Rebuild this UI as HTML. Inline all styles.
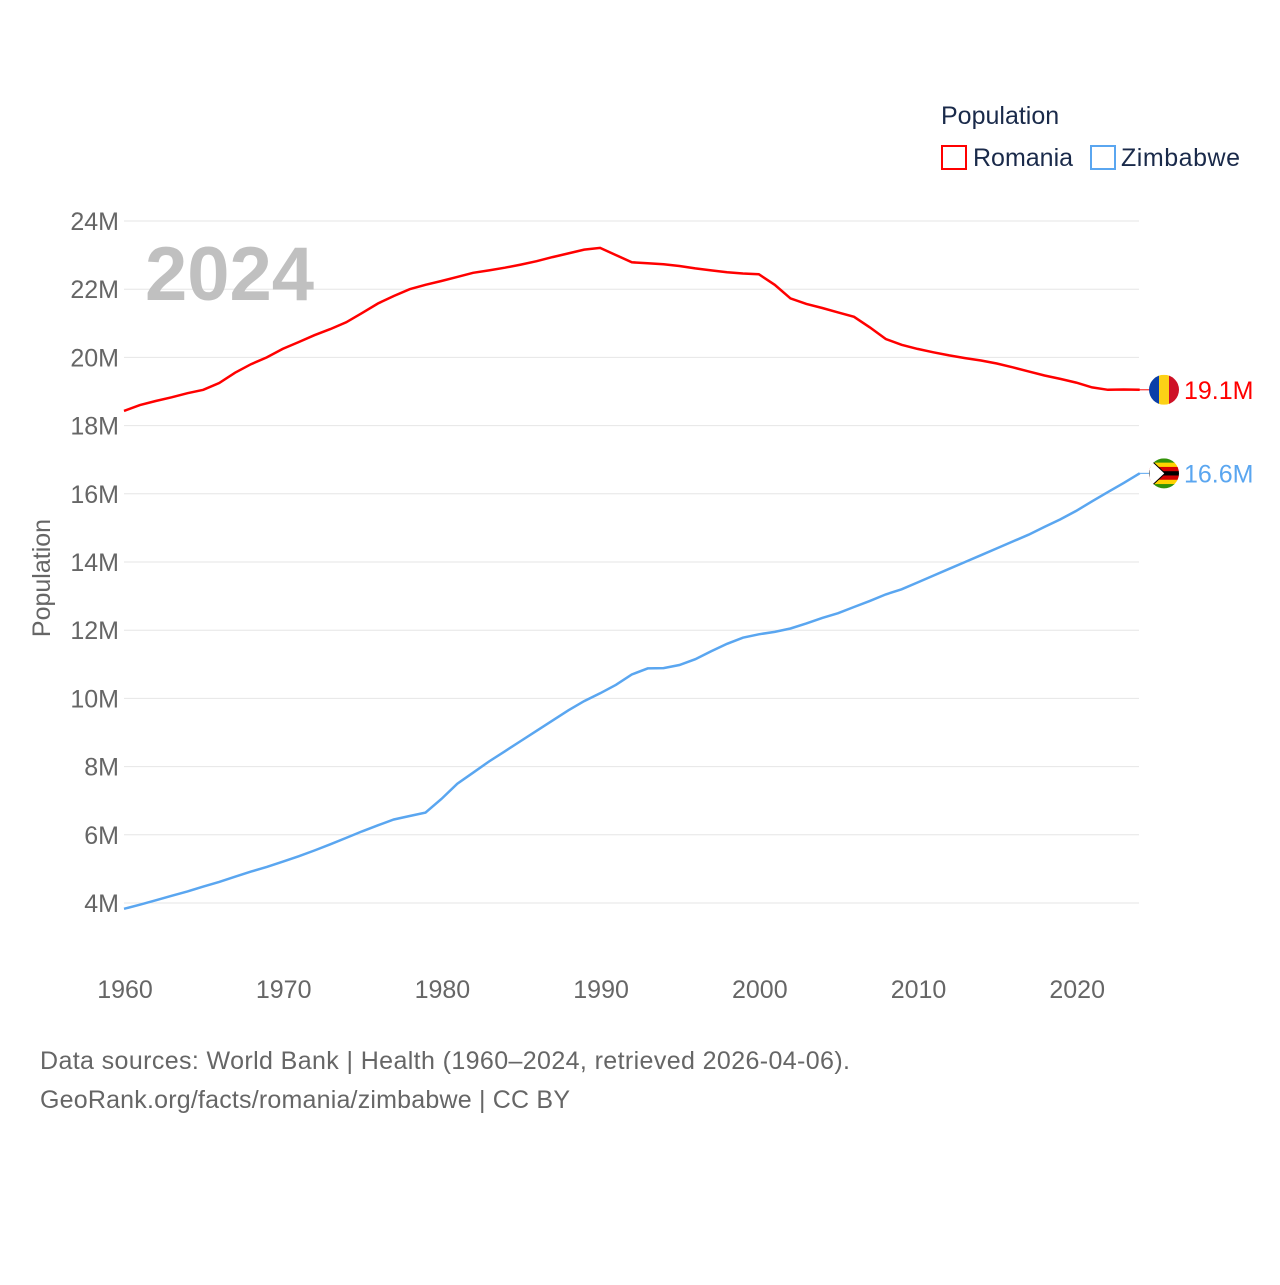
<!DOCTYPE html>
<html><head><meta charset="utf-8"><style>
body{margin:0;background:#fff;font-family:"Liberation Sans",sans-serif;}
svg text{font-family:"Liberation Sans",sans-serif;}
</style></head><body>
<svg width="1280" height="1280" id="chart">
<text x="941" y="124" font-size="25" fill="#1a2a4a">Population</text>
<g><rect x="942" y="146" width="24" height="23" fill="none" stroke="#ff0000" stroke-width="2"/><text x="973" y="166" font-size="25" fill="#1a2a4a">Romania</text></g>
<g><rect x="1091" y="146" width="24" height="23" fill="none" stroke="#5aa6f0" stroke-width="2"/><text x="1121" y="166" font-size="25" fill="#1a2a4a" textLength="119">Zimbabwe</text></g>
<g id="grid"></g>
<text x="145" y="300" font-size="76" font-weight="bold" fill="#c0c0c0">2024</text>
<text transform="translate(50,578) rotate(-90)" text-anchor="middle" font-size="25" fill="#666">Population</text>
<g id="series"></g>
<text x="40" y="1069" font-size="25" fill="#666" textLength="810">Data sources: World Bank | Health (1960–2024, retrieved 2026-04-06).</text>
<text x="40" y="1108" font-size="25" fill="#666" textLength="530">GeoRank.org/facts/romania/zimbabwe | CC BY</text>
</svg>
<script>
const years=[];for(let y=1960;y<=2024;y++)years.push(y);
const romania=[18.43,18.6,18.72,18.83,18.95,19.05,19.25,19.55,19.8,20.0,20.25,20.45,20.65,20.83,21.03,21.3,21.58,21.8,22.0,22.13,22.24,22.36,22.48,22.55,22.63,22.72,22.82,22.94,23.05,23.16,23.21,23.0,22.79,22.76,22.73,22.68,22.61,22.55,22.5,22.46,22.44,22.13,21.73,21.57,21.45,21.32,21.19,20.88,20.54,20.37,20.25,20.15,20.06,19.98,19.91,19.82,19.71,19.59,19.47,19.37,19.26,19.12,19.05,19.06,19.05];
const zimbabwe=[3.83,3.95,4.08,4.21,4.34,4.48,4.62,4.77,4.92,5.06,5.21,5.37,5.54,5.72,5.91,6.1,6.28,6.45,6.55,6.65,7.05,7.5,7.82,8.15,8.45,8.75,9.05,9.35,9.65,9.92,10.15,10.4,10.7,10.88,10.89,10.98,11.15,11.38,11.6,11.78,11.88,11.95,12.05,12.2,12.36,12.5,12.68,12.86,13.05,13.2,13.4,13.6,13.8,14.0,14.2,14.4,14.6,14.8,15.03,15.25,15.5,15.78,16.05,16.32,16.6];
const yTicks=[4,6,8,10,12,14,16,18,20,22,24];
const xTicks=[1960,1970,1980,1990,2000,2010,2020];
const endLabels=["19.1M","16.6M"];
const X=y=>124+(y-1960)*15.87;
const Y=v=>1039.4-v*34.1;
const NS="http://www.w3.org/2000/svg";
function mk(t,a,p){const e=document.createElementNS(NS,t);for(const k in a)e.setAttribute(k,a[k]);p.appendChild(e);return e;}
const grid=document.getElementById('grid');
yTicks.forEach(v=>{
 const l=mk('line',{x1:124,x2:1139,y1:Y(v),y2:Y(v),stroke:'#e6e6e6','stroke-width':1},grid);
 
 
 const t=mk('text',{x:119,y:Y(v)+9,'text-anchor':'end','font-size':25,fill:'#666'},grid);t.textContent=v+'M';
 
 
});
xTicks.forEach(v=>{
 const t=mk('text',{x:X(v)+1,y:998,'text-anchor':'middle','font-size':25,fill:'#666'},grid);t.textContent=v;
 
 
});
const s=document.getElementById('series');
[[romania,'#ff0000','romania'],[zimbabwe,'#5aa6f0','zimbabwe']].forEach(([d,c,n],i)=>{
 const p=mk('path',{d:d.map((v,j)=>(j?'L':'M')+X(years[j]).toFixed(1)+','+Y(v).toFixed(1)).join(''),fill:'none',stroke:c,'stroke-width':2.5},s);
 
 
 const ly=Y(d[d.length-1]);
 mk('line',{x1:1139,x2:1150,y1:ly,y2:ly,stroke:c,'stroke-width':1},s);
 const g=mk('g',{},s);
 
 
 const cx=1164;
 const cp=mk('clipPath',{id:'cp'+i},g);mk('circle',{cx:cx,cy:ly,r:15},cp);
 const gg=mk('g',{'clip-path':'url(#cp'+i+')'},g);
 if(i==0){mk('rect',{x:cx-15,y:ly-15,width:10,height:30,fill:'#0b3fa8'},gg);mk('rect',{x:cx-5,y:ly-15,width:10,height:30,fill:'#fcd116'},gg);mk('rect',{x:cx+5,y:ly-15,width:10,height:30,fill:'#ce1126'},gg);}
 else{const cols=['#319208','#ffd200','#d40000','#000','#d40000','#ffd200','#319208'];cols.forEach((col,k)=>mk('rect',{x:cx-15,y:ly-15+k*30/7,width:30,height:30/7+0.5,fill:col},gg));mk('polygon',{points:`${cx-15},${ly-15} ${cx+1},${ly} ${cx-15},${ly+15}`,fill:'#fff',stroke:'#000','stroke-width':1},gg);}
 const t=mk('text',{x:1184,y:ly+9,'font-size':25,fill:c},s);t.textContent=endLabels[i];
 
 
});
</script>
</body></html>
